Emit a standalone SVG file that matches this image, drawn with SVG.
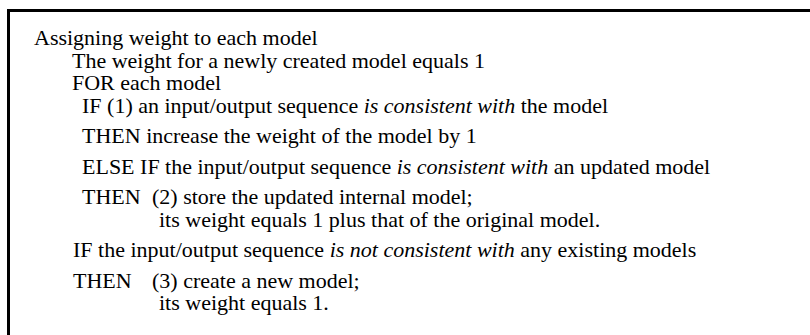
<svg xmlns="http://www.w3.org/2000/svg" width="810" height="335" viewBox="0 0 810 335">
  <style>
    .t { font-family: "Liberation Serif", "Times New Roman", serif; font-size: 22px; fill: #000; }
    .i { font-style: italic; }
    .frame { fill: none; stroke: #000; stroke-width: 3; }
  </style>
  <rect width="810" height="335" fill="#fff"/>
  <!-- open frame: top and left edges only -->
  <path class="frame" d="M8.5,335 V10.5 H810"/>
  <g id="procedure">
    <text class="t" x="34" y="45">Assigning weight to each model</text>
    <text class="t" x="72" y="67.5">The weight for a newly created model equals 1</text>
    <text class="t" x="72" y="90">FOR each model</text>
    <text class="t" x="82" y="112.5">IF (1) an input/output sequence <tspan class="i">is consistent with</tspan> the model</text>
    <text class="t" x="82" y="143">THEN increase the weight of the model by 1</text>
    <text class="t" x="82" y="173.5">ELSE IF the input/output sequence <tspan class="i">is consistent with</tspan> an updated model</text>
    <text class="t" x="82" y="204">THEN</text>
    <text class="t" x="152" y="204">(2) store the updated internal model;</text>
    <text class="t" x="159" y="226.5">its weight equals 1 plus that of the original model.</text>
    <text class="t" x="73" y="257">IF the input/output sequence <tspan class="i">is not consistent with</tspan> any existing models</text>
    <text class="t" x="73" y="287.5">THEN</text>
    <text class="t" x="152" y="287.5">(3) create a new model;</text>
    <text class="t" x="159" y="310">its weight equals 1.</text>
  </g>
</svg>
